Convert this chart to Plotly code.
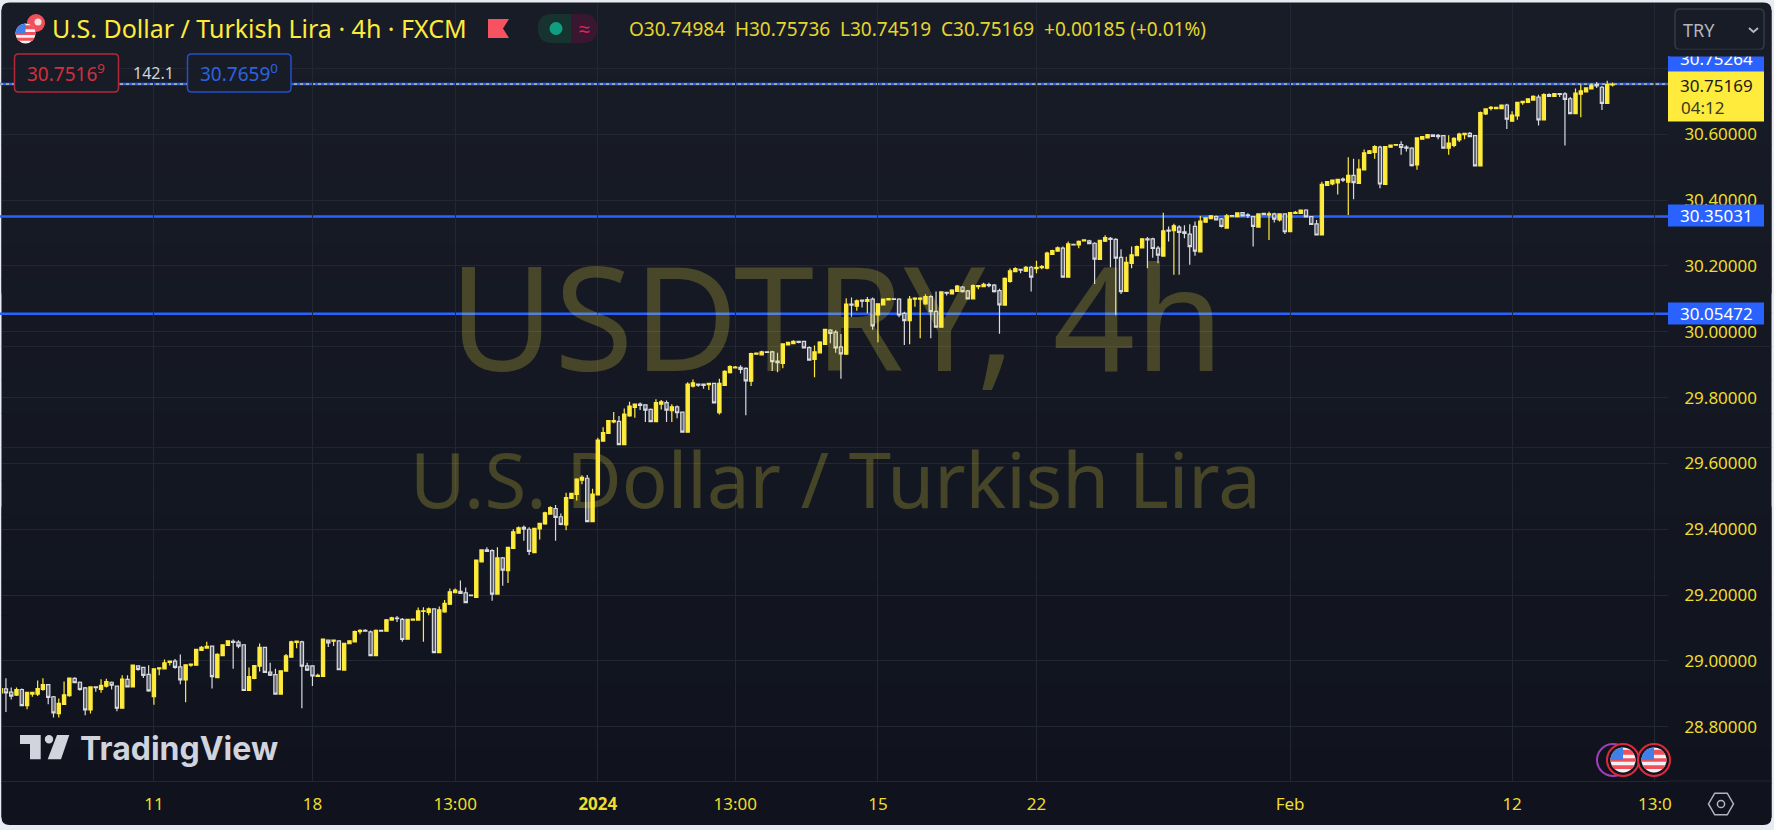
import math
import plotly.graph_objects as go

opens = [
28.903,28.915,28.905,28.896,28.913,28.864,28.899,28.899,28.913,28.928,
28.891,28.840,28.868,28.894,28.947,28.935,28.918,28.851,28.921,28.913,
28.923,28.935,28.923,28.856,28.944,28.921,28.985,28.980,28.959,28.891,
28.976,28.976,28.995,28.999,28.982,28.942,28.987,28.987,29.032,29.039,
29.045,28.949,29.016,29.047,29.059,29.057,29.049,28.910,28.947,28.984,
29.041,28.966,28.958,28.899,28.969,29.011,29.056,29.058,28.985,28.985,
28.953,28.953,29.063,29.060,29.061,28.972,29.052,29.058,29.089,29.093,
29.088,29.016,29.093,29.090,29.124,29.130,29.126,29.066,29.124,29.124,
29.150,29.147,29.158,29.025,29.149,29.172,29.207,29.211,29.207,29.200,
29.193,29.301,29.337,29.335,29.203,29.313,29.274,29.342,29.388,29.406,
29.400,29.329,29.401,29.416,29.446,29.463,29.438,29.413,29.494,29.506,
29.549,29.555,29.423,29.504,29.668,29.691,29.726,29.728,29.657,29.744,
29.770,29.780,29.778,29.764,29.727,29.780,29.785,29.760,29.772,29.756,
29.695,29.835,29.841,29.841,29.839,29.843,29.754,29.837,29.876,29.890,
29.892,29.889,29.850,29.932,29.930,29.939,29.939,29.911,29.904,29.960,
29.964,29.971,29.971,29.952,29.916,29.936,29.962,30.005,29.999,29.954,
29.932,30.084,30.078,30.096,30.092,30.099,30.051,30.082,30.097,30.100,
30.099,30.056,30.034,30.099,30.099,30.085,30.107,30.062,30.014,30.120,
30.115,30.123,30.136,30.124,30.100,30.137,30.137,30.143,30.142,30.125,
30.081,30.153,30.183,30.190,30.184,30.196,30.192,30.195,30.193,30.235,
30.245,30.254,30.166,30.266,30.264,30.276,30.276,30.269,30.220,30.275,
30.284,30.281,30.226,30.123,30.208,30.231,30.255,30.282,30.282,30.254,
30.230,30.309,30.307,30.318,30.304,30.297,30.320,30.243,30.333,30.344,
30.350,30.343,30.315,30.351,30.350,30.362,30.355,30.350,30.318,30.360,
30.355,30.358,30.340,30.358,30.304,30.360,30.360,30.370,30.350,30.328,
30.294,30.445,30.449,30.452,30.464,30.455,30.475,30.451,30.492,30.542,
30.545,30.561,30.448,30.561,30.567,30.569,30.561,30.558,30.507,30.585,
30.589,30.598,30.597,30.596,30.558,30.566,30.583,30.599,30.603,30.596,
30.504,30.662,30.679,30.678,30.678,30.689,30.640,30.656,30.696,30.697,
30.704,30.713,30.644,30.721,30.715,30.724,30.723,30.708,30.663,30.722,
30.729,30.738,30.751,30.743,30.694,30.74984]
highs = [
28.921,28.947,28.919,28.919,28.916,28.904,28.904,28.940,28.947,28.928,
28.893,28.886,28.937,28.948,28.950,28.937,28.921,28.923,28.923,28.944,
28.946,28.937,28.925,28.956,28.956,28.987,28.987,28.982,28.987,28.976,
28.979,29.004,28.999,29.006,29.019,28.988,28.990,29.037,29.045,29.058,
29.047,29.023,29.049,29.063,29.065,29.063,29.049,28.980,28.987,29.053,
29.041,28.994,28.976,28.970,29.021,29.061,29.060,29.061,28.994,28.987,
28.961,29.068,29.065,29.063,29.061,29.055,29.063,29.092,29.096,29.096,
29.092,29.095,29.094,29.127,29.134,29.136,29.130,29.127,29.128,29.162,
29.163,29.162,29.159,29.165,29.185,29.220,29.220,29.244,29.223,29.200,
29.308,29.339,29.345,29.339,29.345,29.316,29.347,29.400,29.408,29.411,
29.406,29.404,29.420,29.453,29.470,29.474,29.448,29.511,29.511,29.555,
29.564,29.565,29.523,29.678,29.710,29.732,29.756,29.744,29.767,29.787,
29.782,29.785,29.780,29.767,29.795,29.793,29.791,29.780,29.776,29.757,
29.847,29.855,29.843,29.843,29.845,29.845,29.857,29.883,29.898,29.896,
29.898,29.892,29.936,29.937,29.942,29.940,29.942,29.936,29.965,29.970,
29.974,29.973,29.973,29.956,29.958,29.971,30.009,30.008,30.005,29.993,
30.102,30.104,30.098,30.098,30.106,30.104,30.087,30.101,30.102,30.101,
30.102,30.061,30.109,30.105,30.105,30.114,30.111,30.122,30.121,30.121,
30.129,30.142,30.139,30.127,30.144,30.141,30.149,30.149,30.145,30.131,
30.165,30.192,30.196,30.191,30.200,30.200,30.216,30.203,30.243,30.249,
30.259,30.259,30.274,30.267,30.277,30.281,30.280,30.272,30.280,30.293,
30.288,30.284,30.251,30.228,30.259,30.262,30.285,30.288,30.286,30.261,
30.362,30.320,30.328,30.324,30.324,30.327,30.335,30.352,30.348,30.355,
30.353,30.346,30.358,30.354,30.362,30.364,30.360,30.352,30.360,30.362,
30.365,30.362,30.360,30.360,30.363,30.367,30.371,30.372,30.352,30.340,
30.456,30.457,30.463,30.465,30.469,30.530,30.526,30.524,30.554,30.552,
30.567,30.565,30.564,30.568,30.570,30.579,30.567,30.561,30.591,30.594,
30.600,30.599,30.601,30.598,30.597,30.591,30.605,30.605,30.607,30.598,
30.669,30.679,30.686,30.683,30.690,30.693,30.670,30.699,30.701,30.709,
30.719,30.720,30.725,30.725,30.725,30.725,30.728,30.713,30.739,30.751,
30.743,30.753,30.759,30.747,30.763,30.75736]
lows = [
28.901,28.845,28.883,28.893,28.863,28.853,28.891,28.893,28.909,28.868,
28.828,28.828,28.868,28.891,28.932,28.909,28.835,28.840,28.906,28.903,
28.919,28.913,28.847,28.856,28.921,28.921,28.970,28.948,28.906,28.867,
28.956,28.974,28.986,28.976,28.929,28.874,28.982,28.987,29.030,29.037,
28.916,28.949,29.015,29.045,28.976,29.038,28.910,28.910,28.944,28.968,
28.965,28.954,28.898,28.899,28.969,29.010,29.038,28.856,28.969,28.924,
28.952,28.952,29.042,29.045,28.972,28.972,29.051,29.057,29.081,29.089,
29.015,29.015,29.089,29.089,29.122,29.118,29.058,29.065,29.123,29.122,
29.058,29.139,29.025,29.025,29.146,29.170,29.207,29.203,29.175,29.198,
29.193,29.300,29.333,29.183,29.201,29.228,29.237,29.341,29.387,29.365,
29.322,29.327,29.369,29.414,29.444,29.365,29.412,29.397,29.493,29.487,
29.537,29.423,29.423,29.503,29.666,29.691,29.722,29.655,29.656,29.742,
29.739,29.762,29.726,29.726,29.726,29.764,29.726,29.726,29.737,29.694,
29.694,29.831,29.833,29.827,29.823,29.784,29.749,29.835,29.873,29.889,
29.873,29.746,29.835,29.930,29.928,29.936,29.881,29.877,29.889,29.959,
29.962,29.965,29.949,29.912,29.862,29.934,29.962,29.965,29.936,29.857,
29.932,30.046,30.064,30.074,30.056,30.006,29.968,30.080,30.096,30.097,
30.044,29.960,29.962,30.076,29.980,30.082,29.980,30.014,30.014,30.110,
30.115,30.122,30.119,30.099,30.099,30.129,30.135,30.135,30.119,29.994,
30.080,30.149,30.182,30.178,30.182,30.122,30.178,30.190,30.190,30.234,
30.243,30.165,30.165,30.263,30.254,30.274,30.267,30.145,30.220,30.273,
30.196,30.050,30.115,30.123,30.193,30.230,30.254,30.193,30.225,30.208,
30.228,30.274,30.173,30.173,30.284,30.204,30.231,30.242,30.332,30.342,
30.338,30.317,30.313,30.350,30.349,30.350,30.346,30.259,30.317,30.354,
30.279,30.332,30.335,30.297,30.304,30.359,30.360,30.348,30.325,30.293,
30.293,30.444,30.445,30.417,30.455,30.355,30.403,30.449,30.491,30.541,
30.526,30.436,30.447,30.560,30.566,30.538,30.548,30.502,30.492,30.584,
30.588,30.593,30.585,30.557,30.538,30.561,30.577,30.585,30.592,30.503,
30.503,30.659,30.672,30.677,30.677,30.616,30.640,30.644,30.690,30.696,
30.702,30.627,30.643,30.714,30.714,30.713,30.566,30.662,30.662,30.652,
30.727,30.737,30.741,30.674,30.694,30.74519]
closes = [
28.916,28.903,28.893,28.913,28.864,28.904,28.904,28.916,28.928,28.889,
28.842,28.871,28.897,28.948,28.934,28.913,28.851,28.921,28.919,28.926,
28.937,28.926,28.856,28.945,28.921,28.987,28.974,28.956,28.909,28.976,
28.979,28.994,28.999,28.980,28.942,28.988,28.990,29.035,29.041,29.044,
28.952,29.020,29.049,29.061,29.056,29.045,28.910,28.952,28.986,29.041,
28.965,28.957,28.899,28.970,29.015,29.058,29.060,28.984,28.972,28.954,
28.956,29.066,29.055,29.063,28.973,29.053,29.061,29.089,29.093,29.090,
29.016,29.093,29.090,29.125,29.131,29.128,29.065,29.126,29.127,29.152,
29.152,29.158,29.025,29.155,29.175,29.210,29.215,29.205,29.177,29.198,
29.306,29.337,29.333,29.203,29.313,29.276,29.345,29.392,29.404,29.400,
29.333,29.403,29.418,29.450,29.466,29.436,29.415,29.496,29.509,29.552,
29.558,29.423,29.507,29.671,29.694,29.730,29.730,29.657,29.750,29.774,
29.780,29.776,29.762,29.727,29.785,29.787,29.762,29.772,29.754,29.695,
29.841,29.845,29.838,29.837,29.843,29.784,29.843,29.880,29.894,29.893,
29.886,29.851,29.934,29.935,29.939,29.937,29.909,29.906,29.963,29.968,
29.971,29.968,29.951,29.914,29.939,29.969,30.007,29.995,29.951,29.933,
30.084,30.081,30.094,30.093,30.098,30.018,30.085,30.099,30.101,30.098,
30.051,30.034,30.099,30.102,30.102,30.107,30.061,30.014,30.121,30.117,
30.127,30.139,30.122,30.100,30.140,30.140,30.144,30.140,30.122,30.082,
30.162,30.185,30.192,30.187,30.196,30.166,30.196,30.198,30.239,30.247,
30.255,30.166,30.267,30.264,30.275,30.279,30.268,30.221,30.278,30.286,
30.281,30.224,30.122,30.211,30.234,30.259,30.282,30.279,30.253,30.233,
30.307,30.306,30.322,30.302,30.299,30.259,30.245,30.336,30.346,30.352,
30.340,30.320,30.352,30.353,30.361,30.352,30.353,30.320,30.358,30.356,
30.358,30.342,30.358,30.304,30.362,30.363,30.370,30.349,30.326,30.294,
30.448,30.456,30.461,30.463,30.461,30.475,30.453,30.494,30.544,30.550,
30.563,30.449,30.563,30.567,30.569,30.560,30.558,30.505,30.589,30.593,
30.599,30.594,30.593,30.558,30.573,30.588,30.601,30.603,30.593,30.504,
30.666,30.677,30.682,30.682,30.689,30.646,30.658,30.697,30.700,30.708,
30.715,30.644,30.721,30.715,30.724,30.721,30.706,30.663,30.725,30.732,
30.741,30.749,30.747,30.694,30.751,30.75169]
bar_index = list(range(len(opens)))

tick_bars = [29, 59, 86, 113, 139, 166, 196, 244, 286, 313]
tick_labels = ["11", "18", "13:00", "<b>2024</b>", "13:00", "15", "22", "Feb", "12", "13:0"]
price_ticks = [28.8, 29.0, 29.2, 29.4, 29.6, 29.8, 30.0, 30.2, 30.4, 30.6, 30.8]
price_labels = ["28.80000", "29.00000", "29.20000", "29.40000", "29.60000", "29.80000",
                "30.00000", "30.20000", "30.40000", "30.60000", ""]
level_prices = [30.35031, 30.05472]
level_labels = ["30.35031", "30.05472"]
last_line_price = 30.75264

W, H = 1774, 830
L, R, T, B = 2, 1668, 3, 781
def px(x): return (x - L) / (R - L)
def py(y): return (B - y) / (B - T)
def pt(x, y): return f"{px(x):.5f},{py(y):.5f}"
def poly(points): return "M" + " L".join(pt(x, y) for x, y in points) + " Z"
def rrect(x0, y0, x1, y1, r):
    return (f"M{pt(x0+r,y0)} L{pt(x1-r,y0)} Q{pt(x1,y0)} {pt(x1,y0+r)} L{pt(x1,y1-r)} Q{pt(x1,y1)} {pt(x1-r,y1)} "
            f"L{pt(x0+r,y1)} Q{pt(x0,y1)} {pt(x0,y1-r)} L{pt(x0,y0+r)} Q{pt(x0,y0)} {pt(x0+r,y0)} Z")

YEL = "#FFEB3B"
TICK = "#EFDD2C"
BG_TOP = (24, 28, 39)
BG_BOTTOM = (16, 19, 30)
GRID = "#232733"
BLUE = "#2962FF"
FONT = "Noto Sans, sans-serif"

shapes, notes = [], []
def path(d, fill=None, line=None, lw=1, layer="above"):
    shapes.append(dict(type="path", xref="paper", yref="paper", path=d, fillcolor=fill or "rgba(0,0,0,0)",
                       line=dict(color=line or "rgba(0,0,0,0)", width=lw if line else 0), layer=layer))
def circle(cx, cy, r, fill=None, line=None, lw=1, layer="above"):
    shapes.append(dict(type="circle", xref="paper", yref="paper", x0=px(cx-r), x1=px(cx+r), y0=py(cy+r), y1=py(cy-r),
                       fillcolor=fill or "rgba(0,0,0,0)", line=dict(color=line or "rgba(0,0,0,0)", width=lw if line else 0), layer=layer))
def rect(x0, y0, x1, y1, fill, layer="above"):
    shapes.append(dict(type="rect", xref="paper", yref="paper", x0=px(x0), x1=px(x1), y0=py(y1), y1=py(y0),
                       fillcolor=fill, line=dict(width=0), layer=layer))
def note(x, y, text, size, color, anchor="left", family=FONT, **kw):
    notes.append(dict(xref="paper", yref="paper", x=px(x), y=py(y), text=text, showarrow=False, xanchor=anchor,
                      yanchor="middle", font=dict(size=size, color=color, family=family), borderpad=0, **kw))
def clipped(cx, cy, r, x0, x1, y0, y1, fill):
    left, right = [], []
    n = 10
    for k in range(n + 1):
        yy = y0 + (y1 - y0) * k / n
        half = math.sqrt(max(r*r - (yy-cy)**2, 0))
        left.append((max(x0, cx-half), yy))
        right.append((min(x1, cx+half), yy))
    path(poly(left + right[::-1]), fill=fill)
def usflag(cx, cy, r):
    circle(cx, cy, r, fill="#F2F3F7")
    s = 2 * r / 7
    for k in (1, 3, 5):
        clipped(cx, cy, r, cx-r, cx+r, cy-r+k*s if k > 1 else cy-r+0.6*s, cy-r+(k+1)*s, "#F0505A")
    clipped(cx, cy, r, cx-r, cx, cy-r, cy, "#3F7FE8")
def mix(t):
    return "rgb(%d,%d,%d)" % tuple(round(a + (b - a) * t) for a, b in zip(BG_TOP, BG_BOTTOM))

# background panel: rounded ends plus bands from the lighter top to the darker bottom
path(rrect(1.5, 2.5, 1771.5, 300, 8), fill=mix(0), layer="below")
path(rrect(1.5, 500, 1771.5, 825, 8), fill=mix(1), layer="below")
band_n = 24
for k in range(band_n):
    y0 = 10 + (817 - 10) * k / band_n
    y1 = 10 + (817 - 10) * (k + 1) / band_n
    rect(1.5, y0, 1771.5, y1 + 0.5, mix(k / (band_n - 1)), layer="below")

# level lines, all kept under the candles
for lv in level_prices:
    shapes.append(dict(type="line", xref="paper", yref="y", x0=px(0), x1=1, y0=lv, y1=lv,
                       line=dict(color=BLUE, width=2.5), layer="below"))
shapes.append(dict(type="line", xref="paper", yref="y", x0=px(0), x1=1, y0=last_line_price, y1=last_line_price,
                   line=dict(color=BLUE, width=2.5), layer="below"))
shapes.append(dict(type="line", xref="paper", yref="y", x0=px(0), x1=1, y0=last_line_price, y1=last_line_price,
                   line=dict(color="#F5E98A", width=1, dash="dot"), layer="below"))

# watermark
note(836, 315, "USDTRY, 4h", 144, "rgba(255,235,59,0.22)", "center")
note(835, 478, "U.S. Dollar / Turkish Lira", 76, "rgba(255,235,59,0.22)", "center")

# header
circle(36, 23, 9, fill="#F0505A")
circle(38, 22, 3.5, fill="#F8E0E0")
usflag(25.5, 33.5, 10)
note(51, 28, "U.S. Dollar / Turkish Lira · 4h · FXCM", 25, YEL)
path(poly([(488, 19), (509, 19), (503, 28.5), (509, 38), (488, 38)]), fill="#F7525F")
path(rrect(538, 14, 597, 43, 14), fill="#3A1730")
path(f"M{pt(552,14)} L{pt(571,14)} L{pt(571,43)} L{pt(552,43)} Q{pt(538,43)} {pt(538,28.5)} Q{pt(538,14)} {pt(552,14)} Z", fill="#17332F")
circle(556, 28.5, 6.5, fill="#0E9F80")
note(584, 28, "≈", 20, "#E91E63", "center")
note(628, 29, "O30.74984  H30.75736  L30.74519  C30.75169  +0.00185 (+0.01%)", 19, "#E6D62C")

# buy / sell boxes
path(rrect(14.5, 54, 118.5, 92, 4), fill=mix(0.05), line="#B5273A", lw=1.5)
path(rrect(187.5, 54, 291, 92, 4), fill=mix(0.05), line="#2450C8", lw=1.5)
note(66, 73, "30.7516<sup>9</sup>", 19, "#D0303F", "center")
note(153, 73, "142.1", 16, "#D1D4DC", "center")
note(239, 73, "30.7659<sup>0</sup>", 19, "#2D62E0", "center")

# right side badges
path(rrect(1675, 9, 1764, 49.5, 5), fill=mix(0), line="#363A45", lw=1.5)
note(1682, 30, "TRY", 18, "#B2B5BE")
path("M" + " L".join(pt(x, y) for x, y in [(1749, 28), (1753.5, 32), (1758, 28)]), line="#B2B5BE", lw=2)
rect(1668, 56, 1764, 72, BLUE)
note(1716, 58.5, "30.75264", 17, "#FFFFFF", "center")
notes.append(dict(xref="paper", yref="paper", x=px(1720), y=py(53), text=" ", showarrow=False, xanchor="center", yanchor="middle",
                  width=100, height=6, bgcolor=mix(0), font=dict(size=1), borderpad=0))
rect(1668, 71.5, 1764, 121.5, YEL)
note(1716, 85, "30.75169", 17, "#1A1A1A", "center")
note(1680, 108, "04:12", 17, "#3A3A20")
for lv_y, lab in zip((215.5, 313.5), level_labels):
    rect(1668, lv_y - 11, 1764, lv_y + 11, BLUE)
    note(1716, lv_y, lab, 17, "#FFFFFF", "center")

# TradingView mark
LOGO = "#D1D4DC"
path(poly([(20, 735), (40.7, 735), (40.7, 759.3), (30, 759.3), (30, 744), (20, 744)]), fill=LOGO)
circle(49, 739.3, 4.2, fill=LOGO)
path(poly([(57, 735), (69.3, 735), (61, 759.3), (47.7, 759.3)]), fill=LOGO)
note(79, 748, "<b>TradingView</b>", 32, LOGO, family="Inter, sans-serif")

# event flags on the time scale
circle(1613, 760, 16, line="#9C3FB8", lw=2)
for cx in (1623, 1654):
    circle(cx, 760, 16, fill=mix(1), line="#E0283C", lw=2)
    usflag(cx, 760, 12.5)

# settings icon
hexpts = [(1721 + 12.5*math.cos(math.radians(a)), 804 + 12.5*math.sin(math.radians(a))) for a in range(0, 360, 60)]
path(poly(hexpts), line="#B2B5BE", lw=1.5)
circle(1721, 804, 3.6, line="#B2B5BE", lw=1.5)
# time scale rule on the right part
rect(1668, 780.5, 1771, 781.5, GRID)

fig = go.Figure(go.Candlestick(
    x=bar_index, open=opens, high=highs, low=lows, close=closes,
    increasing=dict(line=dict(color=YEL, width=1.2), fillcolor=YEL),
    decreasing=dict(line=dict(color="#D8DAE0", width=1.2), fillcolor="#5E616B"),
    whiskerwidth=0, hoverinfo="skip", showlegend=False))

fig.update_layout(
    width=W, height=H, autosize=False, boxgap=0.12,
    margin=dict(l=L, r=W - R, t=T, b=H - B, pad=0),
    paper_bgcolor="#E9EBF2", plot_bgcolor="rgba(0,0,0,0)",
    shapes=shapes, annotations=notes, showlegend=False,
    font=dict(family=FONT),
    xaxis=dict(type="linear", range=[0.255, 315.5], rangeslider=dict(visible=False),
               tickmode="array", tickvals=tick_bars, ticktext=tick_labels,
               tickfont=dict(size=17, color=TICK, family=FONT), ticks="outside", ticklen=8, tickcolor="rgba(0,0,0,0)",
               showgrid=True, gridcolor=GRID, gridwidth=1, zeroline=False, showline=True, linecolor=GRID, linewidth=1),
    yaxis=dict(side="right", range=[28.635, 30.999], tickmode="array", tickvals=price_ticks, ticktext=price_labels,
               tickfont=dict(size=17, color=TICK, family=FONT), ticks="outside", ticklen=12, tickcolor="rgba(0,0,0,0)",
               showgrid=True, gridcolor=GRID, gridwidth=1, zeroline=False, showline=False),
)

fig.write_html("out.html", config=dict(displayModeBar=False),
               post_script="document.body.style.margin='0';document.body.style.background='#E9EBF2';document.body.style.overflow='hidden';")
